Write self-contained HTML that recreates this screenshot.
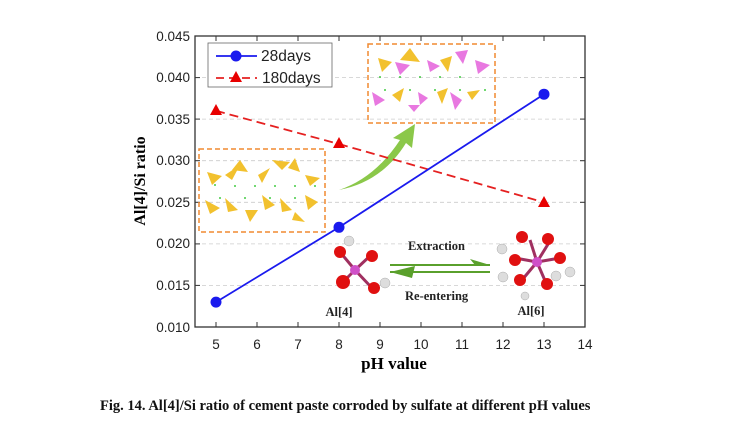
<!DOCTYPE html>
<html><head><meta charset="utf-8"><style>
body{margin:0;background:#fff;}
svg{display:block;}
</style></head><body>
<svg width="737" height="424" viewBox="0 0 737 424" xmlns="http://www.w3.org/2000/svg" font-family="Liberation Sans, sans-serif">
<rect width="737" height="424" fill="#fff"/>
<g stroke="#ccc" stroke-dasharray="4,3" stroke-width="0.8">
<line x1="195" x2="585" y1="77.6" y2="77.6"/><line x1="195" x2="585" y1="119.1" y2="119.1"/>
<line x1="195" x2="585" y1="160.7" y2="160.7"/><line x1="195" x2="585" y1="202.3" y2="202.3"/>
<line x1="195" x2="585" y1="243.9" y2="243.9"/><line x1="195" x2="585" y1="285.4" y2="285.4"/>
</g>
<rect x="195" y="36" width="390" height="291" fill="none" stroke="#333" stroke-width="1.3"/>
<g stroke="#333" stroke-width="1">
<line x1="216" x2="216" y1="327" y2="322"/><line x1="257" x2="257" y1="327" y2="322"/><line x1="298" x2="298" y1="327" y2="322"/><line x1="339" x2="339" y1="327" y2="322"/><line x1="380" x2="380" y1="327" y2="322"/><line x1="421" x2="421" y1="327" y2="322"/><line x1="462" x2="462" y1="327" y2="322"/><line x1="503" x2="503" y1="327" y2="322"/><line x1="544" x2="544" y1="327" y2="322"/><line x1="585" x2="585" y1="327" y2="322"/>
<line x1="216" x2="216" y1="36" y2="41"/><line x1="257" x2="257" y1="36" y2="41"/><line x1="298" x2="298" y1="36" y2="41"/><line x1="339" x2="339" y1="36" y2="41"/><line x1="380" x2="380" y1="36" y2="41"/><line x1="421" x2="421" y1="36" y2="41"/><line x1="462" x2="462" y1="36" y2="41"/><line x1="503" x2="503" y1="36" y2="41"/><line x1="544" x2="544" y1="36" y2="41"/>
<line x1="195" x2="200" y1="36" y2="36"/><line x1="195" x2="200" y1="77.6" y2="77.6"/><line x1="195" x2="200" y1="119.1" y2="119.1"/><line x1="195" x2="200" y1="160.7" y2="160.7"/><line x1="195" x2="200" y1="202.3" y2="202.3"/><line x1="195" x2="200" y1="243.9" y2="243.9"/><line x1="195" x2="200" y1="285.4" y2="285.4"/>
<line x1="585" x2="580" y1="77.6" y2="77.6"/><line x1="585" x2="580" y1="119.1" y2="119.1"/><line x1="585" x2="580" y1="160.7" y2="160.7"/><line x1="585" x2="580" y1="202.3" y2="202.3"/><line x1="585" x2="580" y1="243.9" y2="243.9"/><line x1="585" x2="580" y1="285.4" y2="285.4"/>
</g>
<g font-size="13.5" fill="#222" text-anchor="end">
<text x="190" y="41">0.045</text><text x="190" y="82">0.040</text><text x="190" y="124">0.035</text><text x="190" y="165">0.030</text><text x="190" y="207">0.025</text><text x="190" y="248">0.020</text><text x="190" y="290">0.015</text><text x="190" y="332">0.010</text>
</g>
<g font-size="13.5" fill="#222" text-anchor="middle">
<text x="216" y="349">5</text><text x="257" y="349">6</text><text x="298" y="349">7</text><text x="339" y="349">8</text><text x="380" y="349">9</text><text x="421" y="349">10</text><text x="462" y="349">11</text><text x="503" y="349">12</text><text x="544" y="349">13</text><text x="585" y="349">14</text>
</g>
<text x="394" y="369" font-family="Liberation Serif, serif" font-weight="bold" font-size="17" text-anchor="middle">pH value</text>
<text transform="translate(145,181) rotate(-90)" font-family="Liberation Serif, serif" font-weight="bold" font-size="16" text-anchor="middle">Al[4]/Si ratio</text>
<rect x="199" y="149" width="126" height="83" fill="none" stroke="#f08a30" stroke-width="1.5" stroke-dasharray="5,3"/>
<rect x="368" y="44" width="127" height="79" fill="none" stroke="#f08a30" stroke-width="1.5" stroke-dasharray="5,3"/>
<g fill="#f2c12e">
<polygon points="207,172 222,176 212,185"/><polygon points="225,175 240,165 232,180"/><polygon points="240,160 248,172 232,170"/><polygon points="258,175 270,168 262,183"/><polygon points="272,160 290,162 282,170"/><polygon points="295,158 300,172 288,168"/><polygon points="305,175 320,178 310,186"/>
<polygon points="205,200 220,208 210,214"/><polygon points="225,198 238,210 228,212"/><polygon points="245,210 258,210 250,222"/><polygon points="262,195 275,205 265,210"/><polygon points="280,198 292,210 282,212"/><polygon points="295,212 305,222 292,220"/><polygon points="305,195 318,202 308,210"/>
<polygon points="378,58 392,62 382,72"/><polygon points="410,48 420,62 400,60"/><polygon points="440,60 452,56 448,72"/><polygon points="392,95 404,88 400,102"/><polygon points="437,92 448,88 442,104"/><polygon points="467,92 480,90 472,100"/>
</g>
<g fill="#e878e0">
<polygon points="395,62 410,65 400,75"/><polygon points="427,60 440,66 430,72"/><polygon points="455,52 468,50 463,64"/><polygon points="475,60 490,65 478,74"/><polygon points="372,92 385,100 375,106"/><polygon points="418,92 428,98 420,105"/><polygon points="408,105 420,105 414,112"/><polygon points="450,92 462,100 455,110"/>
</g>
<g fill="#4c4"><circle cx="215" cy="185" r="1"/><circle cx="235" cy="186" r="1"/><circle cx="255" cy="186" r="1"/><circle cx="275" cy="186" r="1"/><circle cx="295" cy="186" r="1"/><circle cx="315" cy="186" r="1"/><circle cx="220" cy="198" r="1"/><circle cx="245" cy="198" r="1"/><circle cx="270" cy="198" r="1"/><circle cx="295" cy="198" r="1"/>
<circle cx="380" cy="77" r="1"/><circle cx="400" cy="77" r="1"/><circle cx="420" cy="77" r="1"/><circle cx="440" cy="77" r="1"/><circle cx="460" cy="77" r="1"/><circle cx="385" cy="90" r="1"/><circle cx="410" cy="90" r="1"/><circle cx="435" cy="90" r="1"/><circle cx="460" cy="90" r="1"/><circle cx="485" cy="90" r="1"/></g>
<path d="M339,190 Q375,178 400,140 L393,138 L415,124 L412,148 L406,143 Q382,182 339,190 Z" fill="#8bc84a"/>
<line x1="216" y1="110.8" x2="339" y2="144" stroke="#e52020" stroke-width="1.8" stroke-dasharray="9,5"/>
<line x1="339" y1="144" x2="544" y2="202.3" stroke="#e52020" stroke-width="1.8" stroke-dasharray="9,5"/>
<polyline points="216,302.1 339,227.3 544,94.2" fill="none" stroke="#1a1aee" stroke-width="1.8"/>
<g fill="#1a1aee"><circle cx="216" cy="302.1" r="5.5"/><circle cx="339" cy="227.3" r="5.5"/><circle cx="544" cy="94.2" r="5.5"/></g>
<g fill="#e80000"><polygon points="216,104 222,115 210,115"/><polygon points="339,137 345,148 333,148"/><polygon points="544,196 550,207 538,207"/></g>
<g stroke="#a03060" stroke-width="3"><line x1="355" y1="270" x2="343" y2="282"/><line x1="355" y1="270" x2="340" y2="252"/><line x1="355" y1="270" x2="371" y2="255"/><line x1="355" y1="270" x2="372" y2="288"/>
<line x1="537" y1="262" x2="530" y2="240"/><line x1="537" y1="262" x2="550" y2="241"/><line x1="537" y1="262" x2="515" y2="258"/><line x1="537" y1="262" x2="560" y2="258"/><line x1="537" y1="262" x2="522" y2="280"/><line x1="537" y1="262" x2="546" y2="283"/></g>
<circle cx="355" cy="270" r="5" fill="#d050c8"/><circle cx="537" cy="262" r="5" fill="#d050c8"/>
<g fill="#e01010"><circle cx="343" cy="282" r="7"/><circle cx="340" cy="252" r="6"/><circle cx="372" cy="256" r="6"/><circle cx="374" cy="288" r="6"/>
<circle cx="522" cy="237" r="6"/><circle cx="548" cy="239" r="6"/><circle cx="515" cy="260" r="6"/><circle cx="560" cy="258" r="6"/><circle cx="520" cy="280" r="6"/><circle cx="547" cy="284" r="6"/></g>
<g fill="#ddd" stroke="#aaa" stroke-width="0.5"><circle cx="349" cy="241" r="5"/><circle cx="385" cy="283" r="5"/><circle cx="502" cy="249" r="5"/><circle cx="570" cy="272" r="5"/><circle cx="503" cy="277" r="5"/><circle cx="556" cy="276" r="5"/><circle cx="525" cy="296" r="4"/></g>
<g fill="#5aa02c"><polygon points="390,265 490,265 470,259 475,265"/><rect x="390" y="264" width="100" height="2"/><rect x="390" y="271" width="100" height="2"/><polygon points="390,272 415,266 412,278"/></g>
<g font-family="Liberation Serif, serif" font-weight="bold" font-size="12.5" fill="#222">
<text x="408" y="250">Extraction</text><text x="405" y="300">Re-entering</text><text x="339" y="316" text-anchor="middle">Al[4]</text><text x="531" y="315" text-anchor="middle">Al[6]</text></g>
<rect x="208" y="43" width="124" height="44" fill="#fff" stroke="#666" stroke-width="0.8"/>
<line x1="216" y1="56" x2="257" y2="56" stroke="#1a1aee" stroke-width="1.8"/><circle cx="236" cy="56" r="5.5" fill="#1a1aee"/>
<line x1="216" y1="78" x2="257" y2="78" stroke="#e52020" stroke-width="1.8" stroke-dasharray="8,5"/><polygon points="236,71 242,82 230,82" fill="#e80000"/>
<g font-size="15.5" fill="#222"><text x="261" y="61">28days</text><text x="262" y="83">180days</text></g>
<text x="100" y="410" font-family="Liberation Serif, serif" font-weight="bold" font-size="14.5" fill="#111">Fig. 14. Al[4]/Si ratio of cement paste corroded by sulfate at different pH values</text>
</svg>
</body></html>
